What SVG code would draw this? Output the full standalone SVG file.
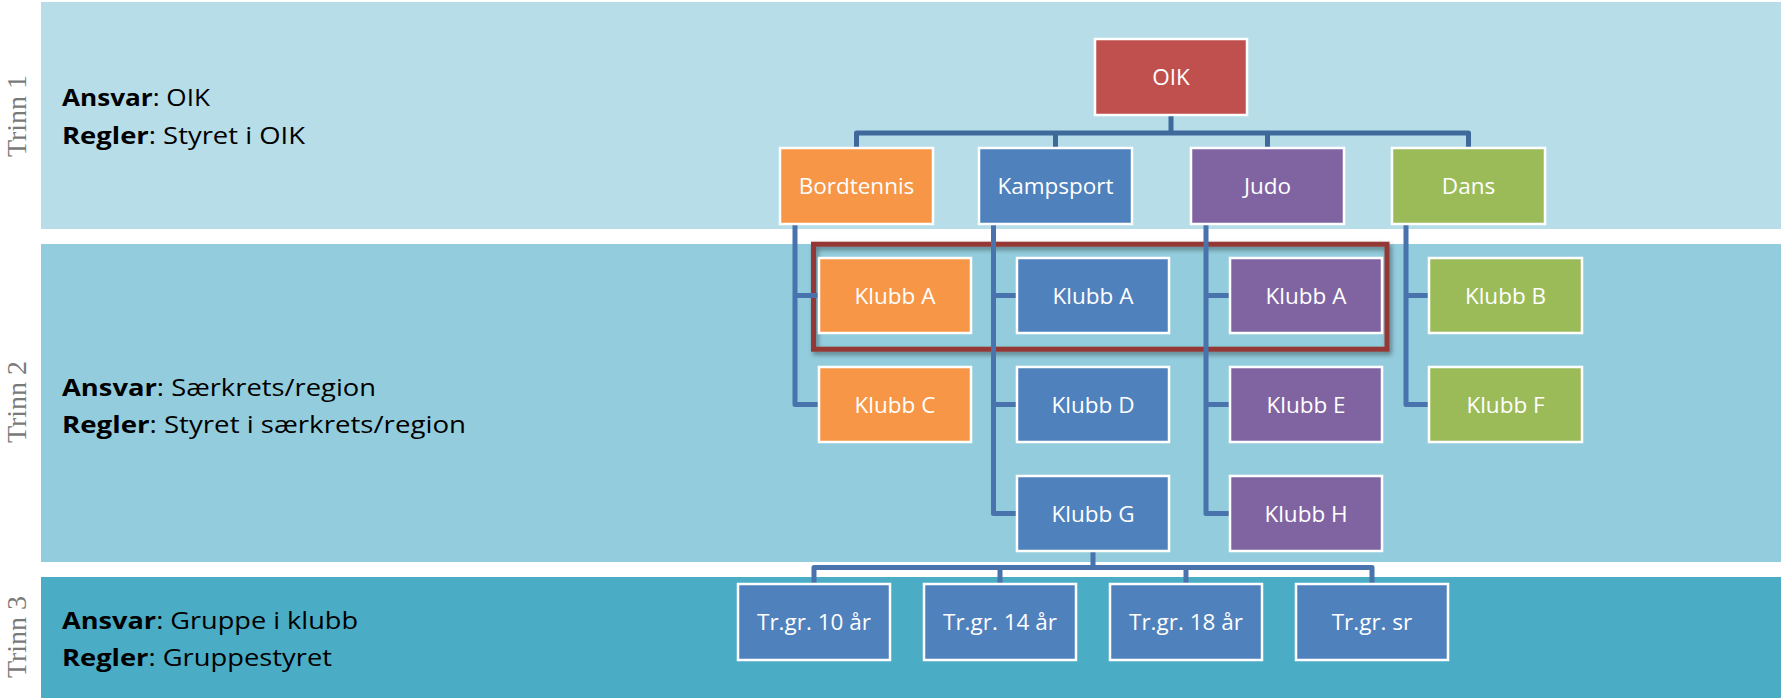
<svg xmlns="http://www.w3.org/2000/svg" width="1781" height="698" viewBox="0 0 1781 698">
<defs>
<style>
.node rect{stroke:#ffffff;stroke-width:2.5}
.node text{font-family:"Open Sans","Noto Sans","Liberation Sans",sans-serif;font-size:22.5px;fill:#ffffff;text-anchor:middle}
.red rect{fill:#c0504d}.org rect{fill:#f79646}.blu rect{fill:#4f81bd}.pur rect{fill:#8064a2}.grn rect{fill:#9bbb59}
.conn path{fill:none;stroke:#4873ad;stroke-width:5;stroke-linejoin:round;stroke-linecap:butt}
.conn path.top{stroke:#3f689b}
.trinn{font-family:"Liberation Serif","DejaVu Serif",serif;font-size:28px;fill:#7a7a7a;text-anchor:middle}
.info{font-family:"Open Sans","Noto Sans","Liberation Sans",sans-serif;font-size:23.4px;fill:#000000}
.info tspan.b{font-weight:700}
</style>
<filter id="sh" x="-5%" y="-20%" width="110%" height="140%">
<feDropShadow dx="2" dy="3" stdDeviation="2.5" flood-color="#000000" flood-opacity="0.4"/>
</filter>
</defs>
<rect width="1781" height="698" fill="#ffffff"/>
<g id="band1">
<rect x="41" y="2" width="1740" height="227" fill="#b7dde8"/>
<text class="trinn" transform="translate(26,116) rotate(-90)">Trinn 1</text>
<text class="info" x="62" y="106" textLength="148" lengthAdjust="spacingAndGlyphs"><tspan class="b">Ansvar</tspan>: OIK</text>
<text class="info" x="62" y="144" textLength="243" lengthAdjust="spacingAndGlyphs"><tspan class="b">Regler</tspan>: Styret i OIK</text>
</g>
<g id="band2">
<rect x="41" y="244" width="1740" height="318" fill="#93cddd"/>
<text class="trinn" transform="translate(26,402) rotate(-90)">Trinn 2</text>
<text class="info" x="62" y="396" textLength="314" lengthAdjust="spacingAndGlyphs"><tspan class="b">Ansvar</tspan>: Særkrets/region</text>
<text class="info" x="62" y="433" textLength="404" lengthAdjust="spacingAndGlyphs"><tspan class="b">Regler</tspan>: Styret i særkrets/region</text>
</g>
<g id="band3">
<rect x="41" y="577" width="1740" height="121" fill="#4bacc6"/>
<text class="trinn" transform="translate(26,637) rotate(-90)">Trinn 3</text>
<text class="info" x="62" y="629" textLength="296" lengthAdjust="spacingAndGlyphs"><tspan class="b">Ansvar</tspan>: Gruppe i klubb</text>
<text class="info" x="62" y="666" textLength="270" lengthAdjust="spacingAndGlyphs"><tspan class="b">Regler</tspan>: Gruppestyret</text>
</g>
<g id="highlight">
<rect x="813.5" y="244.2" width="573.5" height="105" fill="none" stroke="#953735" stroke-width="5" filter="url(#sh)"/>
</g>
<g id="connectors" class="conn">
<path class="top" d="M1171 116V133M856.5 147V133H1468.5V147M1055.5 133V147M1267.5 133V147"/>
<path d="M795 225V404.5H818M795 295.5H818"/>
<path d="M993.5 225V513.5H1016M993.5 295.5H1016M993.5 404.5H1016"/>
<path d="M1206 225V513.5H1229M1206 295.5H1229M1206 404.5H1229"/>
<path d="M1406 225V404.5H1428M1406 295.5H1428"/>
<path d="M1093 552V567.5M814 583V567.5H1372V583M1000 567.5V583M1186 567.5V583"/>
</g>
<g id="n-oik" class="node red"><rect x="1095" y="39" width="152" height="76"/><text x="1171" y="85">OIK</text></g>
<g id="n-bordtennis" class="node org"><rect x="780" y="148" width="153" height="76"/><text x="856.5" y="194">Bordtennis</text></g>
<g id="n-kampsport" class="node blu"><rect x="979" y="148" width="153" height="76"/><text x="1055.5" y="194">Kampsport</text></g>
<g id="n-judo" class="node pur"><rect x="1191" y="148" width="153" height="76"/><text x="1267.5" y="194">Judo</text></g>
<g id="n-dans" class="node grn"><rect x="1392" y="148" width="153" height="76"/><text x="1468.5" y="194">Dans</text></g>
<g id="n-bt-a" class="node org"><rect x="819" y="258" width="152" height="75"/><text x="895" y="303.5">Klubb A</text></g>
<g id="n-bt-c" class="node org"><rect x="819" y="367" width="152" height="75"/><text x="895" y="412.5">Klubb C</text></g>
<g id="n-ks-a" class="node blu"><rect x="1017" y="258" width="152" height="75"/><text x="1093" y="303.5">Klubb A</text></g>
<g id="n-ks-d" class="node blu"><rect x="1017" y="367" width="152" height="75"/><text x="1093" y="412.5">Klubb D</text></g>
<g id="n-ks-g" class="node blu"><rect x="1017" y="476" width="152" height="75"/><text x="1093" y="521.5">Klubb G</text></g>
<g id="n-ju-a" class="node pur"><rect x="1230" y="258" width="152" height="75"/><text x="1306" y="303.5">Klubb A</text></g>
<g id="n-ju-e" class="node pur"><rect x="1230" y="367" width="152" height="75"/><text x="1306" y="412.5">Klubb E</text></g>
<g id="n-ju-h" class="node pur"><rect x="1230" y="476" width="152" height="75"/><text x="1306" y="521.5">Klubb H</text></g>
<g id="n-da-b" class="node grn"><rect x="1429" y="258" width="153" height="75"/><text x="1505.5" y="303.5">Klubb B</text></g>
<g id="n-da-f" class="node grn"><rect x="1429" y="367" width="153" height="75"/><text x="1505.5" y="412.5">Klubb F</text></g>
<g id="n-tr10" class="node blu"><rect x="738" y="584" width="152" height="76"/><text x="814" y="630">Tr.gr. 10 år</text></g>
<g id="n-tr14" class="node blu"><rect x="924" y="584" width="152" height="76"/><text x="1000" y="630">Tr.gr. 14 år</text></g>
<g id="n-tr18" class="node blu"><rect x="1110" y="584" width="152" height="76"/><text x="1186" y="630">Tr.gr. 18 år</text></g>
<g id="n-trsr" class="node blu"><rect x="1296" y="584" width="152" height="76"/><text x="1372" y="630">Tr.gr. sr</text></g>
</svg>
